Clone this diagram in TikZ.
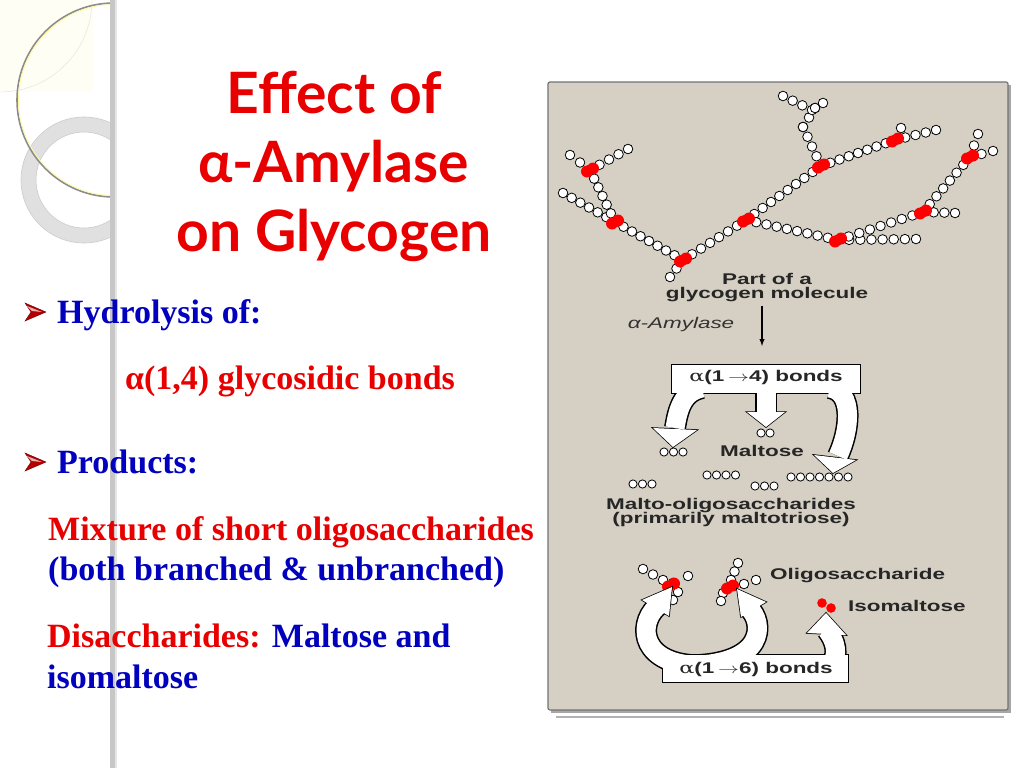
\documentclass[tikz,border=0pt]{standalone}
\usepackage{fontspec}
\setmainfont{Liberation Serif}
\newfontfamily\hv{Liberation Sans}
\newfontfamily\ttl{Lato}
\newfontfamily\djfont{DejaVu Sans}
\newfontfamily\djserif{DejaVu Serif}
\usetikzlibrary{calc}
\definecolor{panel}{RGB}{214,208,196}
\definecolor{rred}{RGB}{232,0,0}
\definecolor{bblue}{RGB}{0,0,190}
\definecolor{bullet}{RGB}{180,0,0}
\newcommand{\wide}[1]{\scalebox{1.45}[1]{#1}}
\tikzset{
  bead/.style={draw=black,fill=white,line width=0.8pt},
  sbead/.style={draw=black,fill=white,line width=0.8pt},
  lbl/.style={font=\hv\bfseries\fontsize{15.5}{15}\selectfont,inner sep=0pt,text=black!85},
  bl/.style={font=\bfseries\fontsize{34}{38}\selectfont,inner sep=0pt,anchor=base west},
  bul/.style={fill=bullet,draw=bullet!60!black,line width=0.4pt},
}
\newcommand{\bline}[5]{\foreach \i in {0,...,\numexpr#5-1\relax}{\path[bead] ($(#1,#2)!{\i/(#5-1)}!(#3,#4)$) circle (4.8);}}
\newcommand{\rnode}[2]{\fill[red] (#1-3,#2+1.5) circle (6); \fill[red] (#1+3,#2-1.5) circle (6);}
\newcommand{\srow}[4]{\foreach \i in {0,...,\numexpr#4-1\relax}{\path[sbead] (#1+#3*\i,#2) circle (4.1);}}
\newcommand{\bulletat}[2]{\path[bul] (#1,#2-9) -- (#1+21,#2) -- (#1,#2+9) -- (#1+6,#2) -- cycle;
  \fill[white!70!bullet] (#1+2,#2-6) -- (#1+17,#2) -- (#1+7,#2-1) -- cycle;}
\begin{document}
\begin{tikzpicture}[x=1pt,y=-1pt]
\useasboundingbox (0,0) rectangle (1024,768);
\fill[white] (0,0) rectangle (1024,768);
% decoration
\begin{scope}
\clip (0,0) rectangle (112,768);
\fill[yellow!4!white] (0,0) rectangle (93,92);
\draw[black!12] (0,0) circle (92);
\fill[black!12,even odd rule] (84,180) circle (63) (84,180) circle (48);
\draw[black!20,line width=0.6pt] (84,180) circle (63) (84,180) circle (48);
\draw[black!45,line width=1.6pt] (114,100) circle (97);
\draw[yellow!40!white,line width=0.8pt] (114,100) circle (95.5);
\end{scope}
\fill[black!22] (110,0) rectangle (115,768);
\fill[black!10] (115,0) rectangle (117,768);
% title
\node[font=\ttl\bfseries\fontsize{57}{69}\selectfont,text=rred,align=center,inner sep=0pt] (title) at (334,166)
  {Effect of\\ α-Amylase\\ on Glycogen};
% bullets
\bulletat{25}{312}
\coordinate (b1) at (25,312);
\node[bl,text=bblue] (h1) at (57,323) {Hydrolysis of:};
\node[bl,text=rred] (h2) at (125,389) {α(1,4) glycosidic bonds};
\bulletat{25}{462}
\coordinate (b2) at (25,462);
\node[bl,text=bblue] (p1) at (57,473) {Products:};
\node[bl,text=rred] (m1) at (48,540) {Mixture of short oligosaccharides};
\node[bl,text=bblue] (m2) at (48,580) {(both branched \& unbranched)};
\node[bl,text=rred] (d1) at (47,647) {Disaccharides: \textcolor{bblue}{Maltose and}};
\node[bl,text=bblue] (d2) at (47,688) {isomaltose};
% panel
\fill[black!35] (551,85) rectangle (1011,713);
\filldraw[fill=panel,draw=black!55,line width=1.2pt,rounded corners=2pt] (548,82) rectangle (1008,710);
\draw[black!30,line width=1.5pt] (556,717) -- (1004,717);
% glycogen
\bline{670}{277}{683}{260}{3}
\bline{683}{260}{746}{220}{8}
\bline{746}{220}{821}{166}{10}
\bline{821}{166}{803}{127}{5}
\bline{803}{127}{815}{108}{3}
\bline{812}{110}{783}{96}{4}
\bline{815}{108}{823}{103}{2}
\bline{821}{166}{895}{140}{9}
\bline{895}{140}{936}{130}{5}
\bline{895}{140}{901}{128}{2}
\bline{683}{260}{615}{222}{9}
\bline{615}{222}{563}{193}{7}
\bline{615}{222}{590}{170}{7}
\bline{590}{170}{570}{155}{3}
\bline{590}{170}{628}{149}{5}
\bline{746}{220}{838}{240}{10}
\bline{838}{240}{916}{239}{8}
\bline{838}{240}{923}{212}{9}
\bline{923}{212}{955}{213}{4}
\bline{923}{212}{970}{157}{8}
\bline{970}{157}{978}{134}{3}
\bline{970}{157}{993}{151}{3}
\rnode{683}{260}\rnode{746}{220}\rnode{821}{166}\rnode{895}{140}
\rnode{615}{222}\rnode{590}{170}\rnode{838}{240}\rnode{923}{212}\rnode{970}{157}
\node[lbl,align=center] (part) at (767,288) {\wide{Part of a}\\[-1pt]\wide{glycogen molecule}};
\node[font=\hv\itshape\fontsize{15.5}{16}\selectfont,inner sep=0pt,text=black!80] (amy) at (681,324) {\wide{α-Amylase}};
\coordinate (a0) at (762,306);
\coordinate (a1) at (762,346);
\draw[line width=1.4pt,-latex] (a0) -- (a1);
% alpha 1-4 bracket arrows
\foreach \c/\w in {black/22}{
  \draw[\c,line width=\w pt] (702,388) .. controls (682,392) and (678,410) .. (675,428);
  \draw[\c,line width=\w pt] (830,388) .. controls (854,392) and (850,430) .. (838,456);
  \draw[\c,line width=\w pt] (766,390) -- (766,414);
}
\filldraw[black,line width=1.5pt] (672,365) rectangle (860,393);
\filldraw[black,line width=1.5pt] (653,428) -- (697,430) -- (673,447) -- cycle;
\filldraw[black,line width=1.5pt] (747,412) -- (785,412) -- (766,427) -- cycle;
\filldraw[black,line width=1.5pt] (814,455) -- (856,460) -- (833,473) -- cycle;
\foreach \c/\w in {white/19}{
  \draw[\c,line width=\w pt] (702,388) .. controls (682,392) and (678,410) .. (675,428);
  \draw[\c,line width=\w pt] (830,388) .. controls (854,392) and (850,430) .. (838,456);
  \draw[\c,line width=\w pt] (766,390) -- (766,414);
}
\fill[white] (672,365) rectangle (860,393);
\fill[white] (653,428) -- (697,430) -- (673,447) -- cycle;
\fill[white] (747,412) -- (785,412) -- (766,427) -- cycle;
\fill[white] (814,455) -- (856,460) -- (833,473) -- cycle;
\node[lbl] (b14) at (766,377) {\wide{\textmd{\djserif α}(1\,$\rightarrow$4) bonds}};
% products
\srow{761}{433}{9}{2}
\node[lbl] (malt) at (762,451) {\wide{Maltose}};
\srow{664}{452}{9.5}{3}
\srow{707}{475}{9.5}{4}
\srow{755}{486}{9.5}{3}
\srow{791}{477}{9.5}{7}
\srow{633}{484}{9.5}{3}
\node[lbl,align=center] (mo) at (731,512) {\wide{Malto-oligosaccharides}\\[-1pt]\wide{(primarily maltotriose)}};
% oligosaccharides
\bline{643}{569}{663}{580}{3}
\bline{673}{583}{688}{576}{2}
\bline{678}{592}{673}{600}{2}
\bline{738}{563}{731}{580}{3}
\bline{744}{584}{756}{580}{2}
\bline{723}{593}{721}{601}{2}
\rnode{671}{585}\rnode{730}{587}
\node[lbl,anchor=west] (olig) at (770,576) {\wide{Oligosaccharide}};
\fill[red] (822,603) circle (4.8); \fill[red] (831,608) circle (4.8);
\node[lbl,anchor=west] (iso) at (848,606) {\wide{Isomaltose}};
% alpha 1-6 arrows
\foreach \c/\w in {black/22}{
  \draw[\c,line width=\w pt] (690,665) .. controls (638,660) and (638,620) .. (660,604);
  \draw[\c,line width=\w pt] (700,665) .. controls (772,660) and (762,615) .. (746,606);
  \draw[\c,line width=\w pt] (830,665) .. controls (840,655) and (835,640) .. (827,630);
}
\filldraw[black,line width=1.5pt] (663,655) rectangle (848,682);
\filldraw[black,line width=1.5pt] (642,600) -- (672,587) -- (669,616) -- cycle;
\filldraw[black,line width=1.5pt] (737,589) -- (766,602) -- (741,617) -- cycle;
\filldraw[black,line width=1.5pt] (807,633) -- (826,613) -- (846,635) -- cycle;
\foreach \c/\w in {white/19}{
  \draw[\c,line width=\w pt] (690,665) .. controls (638,660) and (638,620) .. (660,604);
  \draw[\c,line width=\w pt] (700,665) .. controls (772,660) and (762,615) .. (746,606);
  \draw[\c,line width=\w pt] (830,665) .. controls (840,655) and (835,640) .. (827,630);
}
\fill[white] (663,655) rectangle (848,682);
\fill[white] (642,600) -- (672,587) -- (669,616) -- cycle;
\fill[white] (737,589) -- (766,602) -- (741,617) -- cycle;
\fill[white] (807,633) -- (826,613) -- (846,635) -- cycle;
\node[lbl] (b16) at (756,669) {\wide{\textmd{\djserif α}(1\,$\rightarrow$6) bonds}};
\end{tikzpicture}
\end{document}
